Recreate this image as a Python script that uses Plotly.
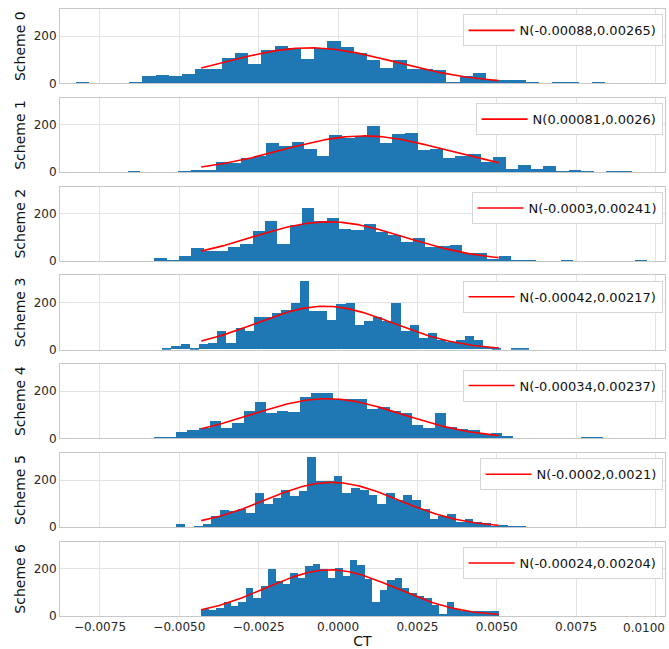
import numpy as np
import plotly.graph_objects as go
from plotly.subplots import make_subplots

schemes = ["Scheme 0", "Scheme 1", "Scheme 2", "Scheme 3", "Scheme 4", "Scheme 5", "Scheme 6"]

# histogram (density) values, 40 bins per scheme
counts_0 = [4, 0, 0, 0, 4, 31, 35, 31, 41, 63, 59, 107, 127, 84, 141, 158, 151, 104, 151, 180,
            152, 127, 99, 66, 99, 61, 61, 58, 8, 31, 42, 13, 13, 13, 7, 0, 7, 4, 0, 4]
counts_1 = [4, 0, 0, 0, 4, 10, 10, 45, 41, 59, 68, 124, 110, 130, 99, 70, 160, 144, 152, 197,
            124, 162, 166, 96, 101, 59, 70, 76, 45, 65, 14, 30, 14, 25, 4, 10, 4, 0, 4, 4]
counts_2 = [13, 4, 21, 56, 42, 46, 61, 72, 128, 170, 72, 152, 228, 170, 182, 139, 135, 159, 125, 111,
            83, 101, 62, 65, 69, 35, 35, 11, 21, 8, 4, 0, 0, 4, 0, 0, 0, 0, 0, 4]
counts_3 = [7, 15, 21, 8, 21, 29, 77, 29, 92, 78, 139, 139, 153, 167, 195, 291, 164, 164, 126, 192,
            195, 105, 119, 139, 119, 195, 77, 105, 49, 71, 38, 32, 41, 57, 38, 11, 4, 0, 4, 4]
counts_4 = [4, 4, 28, 34, 42, 74, 45, 67, 116, 153, 106, 118, 113, 174, 192, 192, 167, 167, 167, 126,
            133, 116, 109, 56, 46, 108, 48, 38, 36, 17, 21, 10, 0, 0, 0, 0, 0, 0, 4, 4]
counts_5 = [14, 0, 6, 14, 49, 73, 69, 79, 59, 146, 101, 124, 160, 131, 153, 298, 196, 196, 217, 146,
            168, 158, 139, 101, 146, 115, 137, 118, 80, 34, 49, 55, 24, 35, 21, 17, 8, 11, 4, 4]
counts_6 = [33, 26, 36, 59, 44, 61, 120, 77, 129, 199, 150, 136, 182, 162, 214, 223, 200, 164, 207, 172,
            240, 216, 157, 61, 113, 154, 162, 122, 101, 86, 79, 47, 9, 59, 33, 24, 24, 24, 24, 24]
all_counts = [counts_0, counts_1, counts_2, counts_3, counts_4, counts_5, counts_6]

# data range (min, max) of each scheme
range_lo = [-0.00825, -0.006625, -0.00579, -0.00554, -0.00581, -0.00509, -0.00431]
range_hi = [0.00841, 0.00925, 0.00973, 0.00601, 0.00835, 0.00591, 0.00506]

# fitted normal parameters
mu = [-0.00088, 0.00081, -0.0003, -0.00042, -0.00034, -0.0002, -0.00024]
sigma = [0.00265, 0.0026, 0.00241, 0.00217, 0.00237, 0.0021, 0.00204]
fit_lo, fit_hi = -0.00431, 0.00506

x_ticks = [-0.0075, -0.005, -0.0025, 0.0, 0.0025, 0.005, 0.0075, 0.01]
x_ticktext = ["\u22120.0075", "\u22120.0050", "\u22120.0025", "0.0000", "0.0025", "0.0050", "0.0075", "0.0100"]
y_ticks = [0, 200]

W, H = 669, 649
m_l, m_r, m_t, m_b = 60, 3, 9, 28
plot_w = W - m_l - m_r
plot_h = H - m_t - m_b
gap = 14.5
n = len(schemes)
row_h = (plot_h - gap * (n - 1)) / n

fig = make_subplots(rows=n, cols=1, shared_xaxes=True, vertical_spacing=gap / plot_h)

FONT = "DejaVu Sans"
BLUE = "#1f77b4"
GRID = "#e3e3e3"
FRAME = "#c8c8c8"
TXT = "#262626"

for i in range(n):
    c = np.array(all_counts[i], dtype=float)
    nb = len(c)
    w = (range_hi[i] - range_lo[i]) / nb
    centers = range_lo[i] + (np.arange(nb) + 0.5) * w
    fig.add_trace(go.Bar(x=centers, y=c, width=w, marker=dict(color=BLUE, line=dict(width=0)),
                         showlegend=False, hoverinfo="skip"), row=i + 1, col=1)
    xs = np.linspace(fit_lo, fit_hi, 200)
    ys = np.exp(-0.5 * ((xs - mu[i]) / sigma[i]) ** 2) / (sigma[i] * np.sqrt(2 * np.pi))
    lg = "legend" if i == 0 else f"legend{i + 1}"
    fig.add_trace(go.Scatter(x=xs, y=ys, mode="lines", line=dict(color="red", width=1.6),
                             name=f"N({mu[i]:g},{sigma[i]:g})", legend=lg, showlegend=True),
                  row=i + 1, col=1)
    top_px = i * (row_h + gap)
    ytop = 1 - (top_px + 5.5) / plot_h
    fig.update_layout(**{lg: dict(x=0.996, xanchor="right", y=ytop, yanchor="top",
                                  bgcolor="white", bordercolor="#d6d6d6", borderwidth=1,
                                  font=dict(size=13, family=FONT, color="#111111"),
                                  itemwidth=46, tracegroupgap=0)})
    fig.update_yaxes(row=i + 1, col=1, range=[0, 315], tickvals=y_ticks, showgrid=True,
                     gridcolor=GRID, gridwidth=1, zeroline=False, showline=True, mirror=True,
                     linecolor=FRAME, linewidth=1, ticks="",
                     tickfont=dict(size=12, family=FONT, color=TXT),
                     title=dict(text=schemes[i], font=dict(size=14, family=FONT, color="#111111"),
                                standoff=4))
    fig.update_xaxes(row=i + 1, col=1, range=[-0.00876, 0.0103], tickvals=x_ticks,
                     ticktext=x_ticktext[:-1] + [""],
                     showgrid=True, gridcolor=GRID, gridwidth=1, zeroline=False, showline=True,
                     mirror=True, linecolor=FRAME, linewidth=1, ticks="",
                     tickfont=dict(size=12, family=FONT, color=TXT))

fig.update_xaxes(row=n, col=1, showticklabels=True,
                 title=dict(text="CT", font=dict(size=14, family=FONT, color="#111111"), standoff=2))

# last tick label sits flush with the right edge of the figure (as in the reference)
fig.add_annotation(x=(W - 1 - m_l) / plot_w, xref="paper", y=0, yref="paper", yshift=-3,
                   text=x_ticktext[-1], showarrow=False, xanchor="right", yanchor="top",
                   font=dict(size=12, family=FONT, color=TXT))

fig.update_layout(width=W, height=H, margin=dict(l=m_l, r=m_r, t=m_t, b=m_b),
                  plot_bgcolor="white", paper_bgcolor="white", bargap=0, barmode="overlay",
                  font=dict(family=FONT))

fig.write_html("out.html")
